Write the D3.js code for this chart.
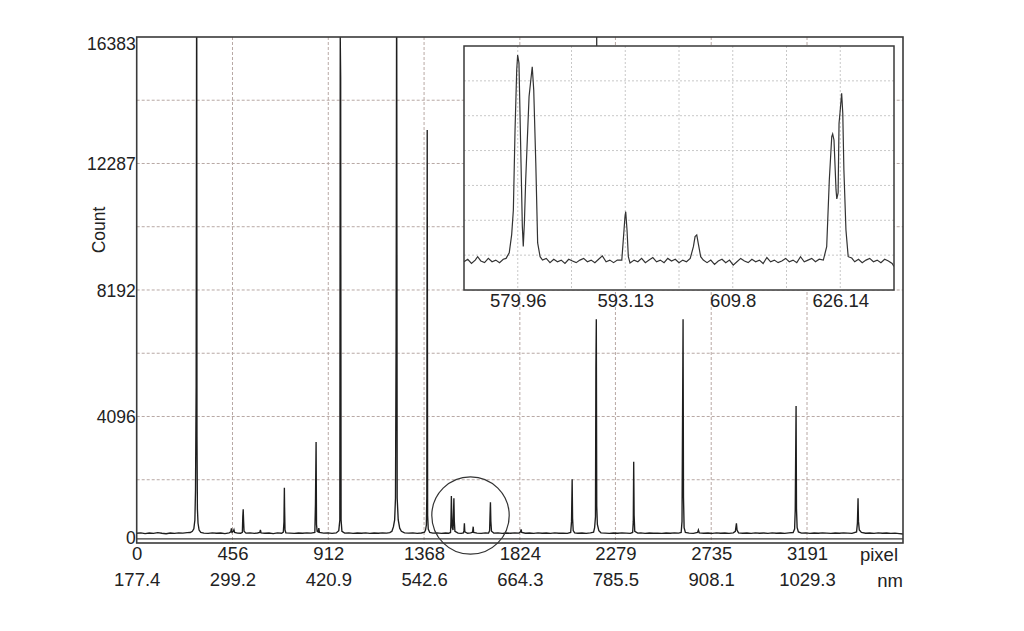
<!DOCTYPE html>
<html>
<head>
<meta charset="utf-8">
<script src="https://cdn.jsdelivr.net/npm/d3@7"></script>
<style>
  html,body{margin:0;padding:0;background:#fff;}
  svg{display:block;}
  text{font-family:"Liberation Sans",Arial,sans-serif;fill:#222;}
</style>
</head>
<body>
<svg id="chart" width="1024" height="631"></svg>
<script>
// ---------------- data ----------------
const pixelTicks = [0, 456, 912, 1368, 1824, 2279, 2735, 3191];
const nmLabels = ["177.4", "299.2", "420.9", "542.6", "664.3", "785.5", "908.1", "1029.3"];
const countTicks = [0, 4096, 8192, 12287, 16383];
const countGrid = [2048, 4096, 6144, 8192, 10240, 12288, 14336];

// main spectrum: [pixel, count]
const mainSpectrum = [
 [0,315],[20,330],[40,305],[60,325],[80,310],[100,335],[120,315],[140,300],[160,325],[180,310],[200,330],[220,320],[240,335],
 [255,340],[265,380],[272,460],[277,745],[280,1716],[283,5116],[285,16383],[286,16383],[287,3442],[289,1100],[292,640],[297,420],[305,340],
 [320,320],[340,310],[360,330],[380,315],[400,325],[420,305],[440,330],[448,360],[451,476],[454,350],[460,380],[463,430],[466,340],
 [480,320],[495,315],[503,345],[505,852],[507,1091],[509,700],[511,380],[520,320],[540,330],[560,310],[575,325],[586,340],[589,421],[592,330],
 [610,315],[630,325],[650,305],[670,330],[690,315],[698,350],[701,690],[703,1790],[704,1175],[706,420],[710,330],
 [730,320],[750,310],[770,325],[790,315],[810,330],[830,320],[848,345],[851,1263],[854,3270],[856,600],[859,380],[864,360],[867,480],[870,340],
 [890,320],[910,330],[930,310],[950,325],[962,400],[967,745],[969,16383],[971,15057],[973,745],[977,380],
 [990,320],[1010,330],[1030,310],[1050,325],[1070,315],[1090,330],[1110,310],[1130,325],[1150,315],[1170,330],[1190,320],[1205,335],
 [1215,380],[1222,520],[1228,745],[1232,1457],[1235,6842],[1237,16383],[1238,16383],[1240,1457],[1245,745],[1252,480],[1260,380],
 [1275,330],[1295,320],[1315,330],[1335,310],[1355,325],[1370,350],[1375,420],[1379,583],[1381,1500],[1383,13373],[1385,900],[1388,450],[1395,340],
 [1410,320],[1430,330],[1450,310],[1470,325],[1485,315],[1494,340],[1496,700],[1498,1522],[1500,900],[1502,500],[1506,420],[1508,900],[1510,1447],[1512,700],[1515,380],
 [1530,320],[1545,310],[1555,325],[1558,400],[1560,638],[1562,360],[1575,315],[1590,325],[1599,350],[1602,528],[1604,340],
 [1620,320],[1640,310],[1660,330],[1675,320],[1680,400],[1682,900],[1684,1318],[1686,700],[1689,380],
 [1700,320],[1720,330],[1740,310],[1760,325],[1780,315],[1800,330],[1820,320],[1827,360],[1830,444],[1833,340],
 [1850,315],[1870,325],[1890,310],[1910,330],[1930,315],[1950,325],[1970,310],[1990,330],[2010,315],[2030,320],[2050,310],
 [2066,340],[2070,700],[2073,2063],[2075,800],[2078,400],[2085,330],[2100,315],[2120,325],[2140,310],[2160,330],
 [2175,350],[2180,500],[2184,852],[2186,5709],[2188,7243],[2190,1200],[2193,600],[2200,400],[2210,330],
 [2230,320],[2250,310],[2270,325],[2290,315],[2310,330],[2330,320],[2350,310],[2361,340],[2364,700],[2366,2633],[2368,900],[2371,380],
 [2385,320],[2400,330],[2420,310],[2440,325],[2460,315],[2480,320],[2500,310],[2520,325],[2540,315],[2560,330],[2580,320],
 [2592,340],[2596,700],[2599,4630],[2601,7243],[2603,1499],[2606,500],[2612,340],[2630,320],[2650,310],[2670,340],[2674,421],[2678,330],
 [2700,315],[2720,325],[2740,310],[2760,330],[2780,315],[2800,325],[2820,310],[2840,330],[2850,380],[2855,638],[2858,420],[2865,330],
 [2885,315],[2905,325],[2925,310],[2945,330],[2965,315],[2985,325],[3005,310],[3025,330],[3045,315],[3065,325],[3085,310],[3105,330],
 [3125,340],[3132,450],[3135,1069],[3137,2794],[3139,4436],[3141,1100],[3144,500],[3150,360],
 [3165,320],[3185,330],[3205,310],[3225,325],[3245,315],[3265,330],[3285,320],[3305,310],[3325,325],[3345,315],[3365,330],[3385,320],[3405,310],
 [3427,360],[3431,648],[3434,1447],[3436,700],[3440,420],[3450,340],[3470,315],[3490,325],[3510,310],[3530,330],[3550,315],[3570,325],[3590,310],[3610,320],[3630,305],[3648,290]
];

// inset (zoom of the circled region): [pixel, count]
const insetTickPixels = [1507.75, 1565.25, 1622.75, 1680.25];
const insetTickLabels = ["579.96", "593.13", "609.8", "626.14"];
const insetSpectrum = [
 [1479,290],[1481,305],[1483,280],[1485,300],[1486.3,320],[1488,295],[1490,285],[1492,310],[1494,290],[1496,300],[1498,285],[1500,305],[1501.5,310],
 [1503.2,343],[1504.5,450],[1505.4,595],[1506.3,1066],[1507.2,1420],[1507.7,1507],[1508.4,1460],[1509.5,871],[1510.2,500],[1510.7,380],[1511.3,520],[1512,771],[1513.8,1262],[1515.5,1438],[1516.3,1301],[1517.4,871],[1518.4,401],[1519.7,320],
 [1521,300],[1523,310],[1525,285],[1527,305],[1529,290],[1531,300],[1533,280],[1535,305],[1537,295],[1539,285],[1541,300],[1543,310],[1545,290],[1547,300],[1549,285],[1551,305],[1553,325],[1555,290],[1557,300],[1559,285],[1561,300],
 [1563.4,300],[1564.2,418],[1565.1,555],[1565.5,585],[1566.2,477],[1566.9,320],[1567.8,283],
 [1570,300],[1572,290],[1574,310],[1576,285],[1578,300],[1580,315],[1582,290],[1584,300],[1586,285],[1588,310],[1590,295],[1592,305],[1594,285],[1596,300],[1598,290],[1600,310],
 [1601.7,379],[1602.6,438],[1603.5,448],[1604.3,399],[1605.6,320],[1607,300],
 [1609,285],[1611,300],[1613,275],[1615,295],[1617,305],[1619,285],[1621,300],[1623,270],[1625,290],[1627,310],[1629,295],[1631,285],[1633,305],[1635,290],[1637,300],[1639,280],[1641,315],[1643,290],[1645,300],[1647,285],[1649,295],[1651,310],[1653,290],[1655,300],[1657,285],[1659,320],[1661,290],[1663,300],[1665,310],[1667,290],[1669,305],
 [1671.2,300],[1673,379],[1674.4,771],[1675.7,1026],[1676.2,1042],[1676.9,1007],[1678,713],[1678.4,660],[1679.1,695],[1679.6,1105],[1680.1,1164],[1681,1282],[1681.6,1164],[1682.2,830],[1683.3,477],[1684.5,320],[1686.4,312],
 [1688,290],[1690,305],[1692,285],[1694,300],[1696,310],[1698,290],[1700,300],[1702,285],[1704,305],[1706,295],[1708,280],[1709,262]
];

// ---------------- drawing ----------------
const svg = d3.select("#chart");
const frame = {l:136.7, r:903, t:37, b:543};
const x = d3.scaleLinear().domain([0, 3648]).range([frame.l, frame.r]);
const y = d3.scaleLinear().domain([0, 16383]).range([frame.b, frame.t]);

const gridColor = "#b8a8a4";
// main gridlines
svg.append("g").selectAll("line.v").data(pixelTicks.slice(1)).join("line")
  .attr("x1", d => x(d)).attr("x2", d => x(d)).attr("y1", frame.t).attr("y2", frame.b)
  .attr("stroke", gridColor).attr("stroke-width", 1).attr("stroke-dasharray", "3,2");
svg.append("g").selectAll("line.h").data(countGrid).join("line")
  .attr("x1", frame.l).attr("x2", frame.r).attr("y1", d => y(d)).attr("y2", d => y(d))
  .attr("stroke", gridColor).attr("stroke-width", 1).attr("stroke-dasharray", "3,2");

// clip
svg.append("clipPath").attr("id","mainClip").append("rect")
  .attr("x", frame.l).attr("y", frame.t).attr("width", frame.r-frame.l).attr("height", frame.b-frame.t);

const line = d3.line().x(d => x(d[0])).y(d => y(d[1]));
svg.append("path").datum(mainSpectrum).attr("d", line)
  .attr("clip-path","url(#mainClip)")
  .attr("fill","none").attr("stroke","#1e1e1e").attr("stroke-width",1.35).attr("stroke-linejoin","miter");

// frame
svg.append("rect").attr("x", frame.l).attr("y", frame.t).attr("width", frame.r-frame.l).attr("height", frame.b-frame.t)
  .attr("fill","none").attr("stroke","#3a3a3a").attr("stroke-width",1.6);
svg.append("line").attr("x1", frame.l).attr("x2", frame.r).attr("y1", 538.8).attr("y2", 538.8)
  .attr("stroke","#3a3a3a").attr("stroke-width",1.3);

const fmt = d => String(d);

// y axis
const yAxis = svg.append("g").attr("transform", `translate(${frame.l},0)`)
  .call(d3.axisLeft(y).tickValues(countTicks).tickFormat(fmt).tickSize(0).tickPadding(1));
yAxis.select(".domain").remove();
yAxis.selectAll("text").style("font-size","17.5px").attr("fill","#222")
  .attr("dy", d => d === 16383 ? "0.7em" : (d === 0 ? "0.05em" : "0.35em"));

// x axes (pixel + nm)
const xAxis1 = svg.append("g").attr("transform", `translate(0,${frame.b})`)
  .call(d3.axisBottom(x).tickValues(pixelTicks).tickFormat(fmt).tickSize(0).tickPadding(4));
xAxis1.select(".domain").remove();
xAxis1.selectAll("text").style("font-size","18.5px").attr("fill","#222");

const xAxis2 = svg.append("g").attr("transform", `translate(0,${frame.b + 26})`)
  .call(d3.axisBottom(x).tickValues(pixelTicks).tickSize(0).tickPadding(4)
    .tickFormat((d,i) => nmLabels[i]));
xAxis2.select(".domain").remove();
xAxis2.selectAll("text").style("font-size","18.5px").attr("fill","#222");

svg.append("text").attr("x", 898).attr("y", 561).attr("text-anchor","end")
  .style("font-size","18.5px").text("pixel");
svg.append("text").attr("x", 903).attr("y", 587).attr("text-anchor","end")
  .style("font-size","18.5px").text("nm");
svg.append("text").attr("transform","translate(105,230) rotate(-90)").attr("text-anchor","middle")
  .style("font-size","17.5px").text("Count");

// circle around region of interest
svg.append("circle").attr("cx", 470.5).attr("cy", 515.5).attr("r", 38.7)
  .attr("fill","none").attr("stroke","#333").attr("stroke-width",1.2);

// ---------------- inset ----------------
const ib = {l:464, r:894, t:46, b:290};
const xi = d3.scaleLinear().domain([1479, 1709]).range([ib.l, ib.r]);
const yi = d3.scaleLinear().domain([124, 1560]).range([ib.b, ib.t]);

svg.append("line").attr("x1", 596.7).attr("x2", 596.7).attr("y1", frame.t).attr("y2", ib.t)
  .attr("stroke","#333").attr("stroke-width",1.3);

svg.append("rect").attr("x", ib.l).attr("y", ib.t).attr("width", ib.r-ib.l).attr("height", ib.b-ib.t)
  .attr("fill","#fff");

const insetGridColor = "#c8c8c8";
const ixStep = (1709-1479)/8;
svg.append("g").selectAll("line").data(d3.range(1,8).map(i => 1479 + i*ixStep)).join("line")
  .attr("x1", d => xi(d)).attr("x2", d => xi(d)).attr("y1", ib.t).attr("y2", ib.b)
  .attr("stroke", insetGridColor).attr("stroke-width",1).attr("stroke-dasharray","2,2");
const iyStep = (1560-124)/7;
svg.append("g").selectAll("line").data(d3.range(1,7).map(i => 124 + i*iyStep)).join("line")
  .attr("x1", ib.l).attr("x2", ib.r).attr("y1", d => yi(d)).attr("y2", d => yi(d))
  .attr("stroke", insetGridColor).attr("stroke-width",1).attr("stroke-dasharray","2,2");

svg.append("clipPath").attr("id","insetClip").append("rect")
  .attr("x", ib.l).attr("y", ib.t).attr("width", ib.r-ib.l).attr("height", ib.b-ib.t);
const iline = d3.line().x(d => xi(d[0])).y(d => yi(d[1]));
svg.append("path").datum(insetSpectrum).attr("d", iline).attr("clip-path","url(#insetClip)")
  .attr("fill","none").attr("stroke","#333").attr("stroke-width",1.2);

svg.append("rect").attr("x", ib.l).attr("y", ib.t).attr("width", ib.r-ib.l).attr("height", ib.b-ib.t)
  .attr("fill","none").attr("stroke","#3a3a3a").attr("stroke-width",1.5);

const ixAxis = svg.append("g").attr("transform", `translate(0,${ib.b})`)
  .call(d3.axisBottom(xi).tickValues(insetTickPixels).tickSize(0).tickPadding(4)
    .tickFormat((d,i) => insetTickLabels[i]));
ixAxis.select(".domain").remove();
ixAxis.selectAll("text").style("font-size","18.5px").attr("fill","#222");
</script>
</body>
</html>
